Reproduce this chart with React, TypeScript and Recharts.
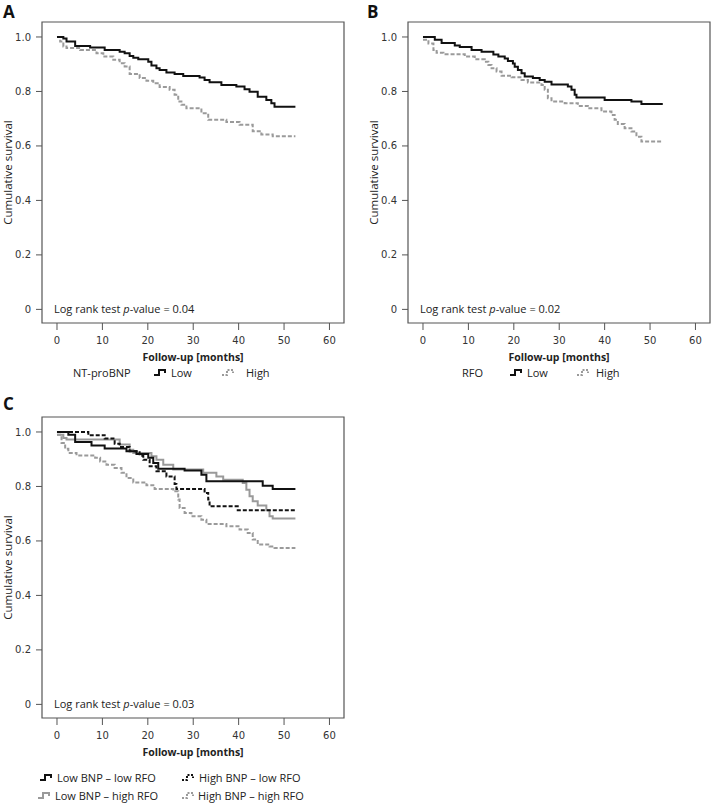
import { LineChart, Line, XAxis, YAxis, ReferenceArea, Label } from "recharts";

// axis ticks
const monthTicks = [0, 10, 20, 30, 40, 50, 60];
const survivalTicks = [0, 0.2, 0.4, 0.6, 0.8, 1.0];

// A: NT-proBNP
const ntLowTime = [0, 1.4, 2.1, 4.0, 7.3, 10.5, 13.8, 14.9, 16.0, 16.8, 17.9, 20.1, 20.8, 21.9, 22.6, 24.1, 25.9, 27.8, 31.4, 32.5, 33.6, 36.2, 39.5, 41.3, 42.4, 44.2, 46.1, 47.2, 47.9, 52.5];
const ntLowSurv = [1.0, 0.994, 0.983, 0.967, 0.961, 0.952, 0.946, 0.94, 0.93, 0.924, 0.918, 0.909, 0.895, 0.885, 0.879, 0.87, 0.864, 0.857, 0.851, 0.842, 0.834, 0.824, 0.818, 0.808, 0.799, 0.781, 0.769, 0.757, 0.744, 0.744];
const ntHighTime = [0, 0.7, 1.4, 2.1, 5.1, 8.7, 10.2, 12.4, 13.8, 14.9, 16.0, 18.2, 19.7, 21.2, 22.6, 24.8, 25.9, 26.7, 27.4, 28.5, 31.8, 33.3, 37.3, 40.2, 43.1, 45.0, 47.5, 52.5];
const ntHighSurv = [1.0, 0.983, 0.965, 0.96, 0.952, 0.94, 0.928, 0.916, 0.904, 0.892, 0.864, 0.849, 0.839, 0.83, 0.816, 0.806, 0.788, 0.763, 0.751, 0.738, 0.72, 0.696, 0.688, 0.678, 0.654, 0.642, 0.636, 0.636];

// B: RFO
const rfoLowTime = [0, 2.6, 4.1, 7.0, 8.1, 10.7, 12.9, 15.5, 16.6, 18.0, 18.7, 19.8, 20.2, 20.9, 21.7, 22.4, 24.2, 25.7, 26.8, 28.3, 31.9, 32.7, 33.4, 33.8, 40.0, 45.9, 48.1, 52.8];
const rfoLowSurv = [1.0, 0.99, 0.978, 0.969, 0.963, 0.952, 0.946, 0.936, 0.928, 0.921, 0.912, 0.903, 0.891, 0.879, 0.867, 0.855, 0.849, 0.842, 0.836, 0.826, 0.818, 0.806, 0.788, 0.778, 0.769, 0.763, 0.754, 0.754];
const rfoHighTime = [0, 1.2, 2.3, 3.0, 4.5, 9.2, 11.4, 13.6, 14.4, 15.1, 16.2, 17.3, 19.5, 21.7, 23.1, 26.1, 26.8, 27.5, 28.3, 31.2, 34.1, 36.3, 39.3, 41.5, 42.2, 42.9, 44.4, 45.9, 47.0, 48.1, 52.8];
const rfoHighSurv = [0.99, 0.976, 0.952, 0.942, 0.937, 0.928, 0.918, 0.909, 0.897, 0.885, 0.873, 0.858, 0.852, 0.842, 0.833, 0.824, 0.806, 0.775, 0.763, 0.757, 0.747, 0.738, 0.726, 0.714, 0.696, 0.681, 0.665, 0.653, 0.634, 0.616, 0.616];

// C: combined
const llTime = [0, 2.5, 4.0, 7.6, 10.5, 15.3, 17.5, 20.1, 21.2, 22.3, 28.1, 31.8, 32.9, 45.3, 47.5, 52.5];
const llSurv = [1.0, 0.99, 0.963, 0.95, 0.939, 0.929, 0.919, 0.905, 0.886, 0.865, 0.859, 0.843, 0.819, 0.803, 0.791, 0.791];
const hlTime = [0, 6.9, 10.5, 12.7, 13.8, 16.0, 18.2, 19.0, 20.4, 21.9, 24.1, 25.9, 26.3, 32.5, 33.3, 33.6, 39.8, 52.5];
const hlSurv = [1.0, 0.988, 0.976, 0.957, 0.945, 0.929, 0.913, 0.898, 0.874, 0.856, 0.837, 0.809, 0.791, 0.776, 0.752, 0.727, 0.713, 0.713];
const lhTime = [0, 1.4, 2.1, 13.8, 16.0, 16.8, 20.8, 21.9, 23.4, 25.6, 32.2, 35.1, 36.6, 40.9, 41.7, 42.4, 43.1, 44.2, 46.1, 46.8, 47.5, 52.5];
const lhSurv = [0.99, 0.978, 0.972, 0.954, 0.935, 0.923, 0.911, 0.898, 0.88, 0.862, 0.85, 0.837, 0.825, 0.813, 0.788, 0.764, 0.746, 0.73, 0.713, 0.691, 0.682, 0.682];
const hhTime = [0, 1.0, 1.8, 2.5, 4.3, 8.4, 9.5, 10.9, 12.7, 14.2, 15.3, 16.8, 19.7, 21.5, 25.6, 26.7, 27.0, 28.1, 29.6, 31.8, 32.9, 37.3, 40.2, 42.0, 43.1, 44.2, 46.8, 47.9, 52.5];
const hhSurv = [0.99, 0.96, 0.938, 0.923, 0.914, 0.905, 0.892, 0.88, 0.868, 0.85, 0.831, 0.815, 0.804, 0.791, 0.782, 0.752, 0.721, 0.703, 0.691, 0.678, 0.662, 0.654, 0.642, 0.629, 0.605, 0.587, 0.58, 0.574, 0.574];

const zip = (t: number[], s: number[]) => t.map((v, i) => ({ t: v, s: s[i] }));

const BLACK = "#111";
const GRAY = "#9a9a9a";
const DASH = "4 2";
const FONT = "'Open Sans', sans-serif";

type Series = { key: string; data: { t: number; s: number }[]; color: string; dash?: string };

const X_DOMAIN = [-3.3, 63.2];
const Y_DOMAIN = [-0.05, 1.055];

const xTitle = (props: any) => {
  const vb = props.viewBox;
  return (
    <text x={vb.x + vb.width / 2} y={vb.y + 34} textAnchor="middle" dominantBaseline="central"
      style={{ fontFamily: FONT, fontSize: 10.5, fontWeight: 700, fill: "#222" }}>
      Follow-up [months]
    </text>
  );
};

const yTitle = (props: any) => {
  const vb = props.viewBox;
  const cx = 7;
  const cy = vb.y + vb.height / 2;
  return (
    <text x={cx} y={cy} transform={`rotate(-90 ${cx} ${cy})`} textAnchor="middle" dominantBaseline="central"
      style={{ fontFamily: FONT, fontSize: 11.5, fill: "#222" }}>
      Cumulative survival
    </text>
  );
};

function Panel({ left, top, width, series, pValue }: { left: number; top: number; width: number; series: Series[]; pValue: string }) {
  const tickStyle = { fill: "#333", fontSize: 10, fontFamily: "'DejaVu Sans', sans-serif" };
  return (
    <div style={{ position: "absolute", left, top }}>
      <LineChart width={width} height={372} margin={{ top: 22, right: width - 344, bottom: 0, left: 0 }}>
        <XAxis type="number" dataKey="t" domain={X_DOMAIN} ticks={monthTicks} allowDataOverflow
          axisLine={false} stroke="#555" tickSize={7} tickMargin={7} height={49} tick={tickStyle}>
          <Label content={xTitle} />
        </XAxis>
        <YAxis type="number" domain={Y_DOMAIN} ticks={survivalTicks} allowDataOverflow width={42}
          axisLine={false} stroke="#555" tickSize={6} tickMargin={5} tick={tickStyle}
          tickFormatter={(v: number) => (v === 0 ? "0" : v.toFixed(1))}>
          <Label content={yTitle} />
        </YAxis>
        <ReferenceArea x1={X_DOMAIN[0]} x2={X_DOMAIN[1]} y1={Y_DOMAIN[0]} y2={Y_DOMAIN[1]}
          fill="none" stroke="#555" strokeWidth={1.2} />
        {series.map((s) => (
          <Line key={s.key} data={s.data} dataKey="s" type="stepAfter" stroke={s.color} strokeWidth={2}
            strokeDasharray={s.dash} dot={false} activeDot={false} isAnimationActive={false} />
        ))}
      </LineChart>
      <div style={{ position: "absolute", left: 54, top: 301, fontSize: 11, lineHeight: "16px", whiteSpace: "nowrap", color: "#222" }}>
        Log rank test <i>p</i>-value = {pValue}
      </div>
    </div>
  );
}

function StepIcon({ color, dash }: { color: string; dash?: string }) {
  return (
    <svg width={14} height={9} style={{ display: "block" }}>
      <path d="M0 7 H5 V2 H11 V5" fill="none" stroke={color} strokeWidth={2} strokeDasharray={dash ? "2 1.5" : undefined} />
    </svg>
  );
}

function Txt({ x, y, children }: { x: number; y: number; children: any }) {
  return (
    <div style={{ position: "absolute", left: x, top: y - 8, lineHeight: "16px", fontSize: 11, whiteSpace: "nowrap", color: "#222" }}>
      {children}
    </div>
  );
}

function Icon({ x, y, color, dash }: { x: number; y: number; color: string; dash?: string }) {
  return (
    <div style={{ position: "absolute", left: x, top: y - 5 }}>
      <StepIcon color={color} dash={dash} />
    </div>
  );
}

const letter = (x: number, y: number) => ({
  position: "absolute" as const, left: x, top: y, fontSize: 17, fontWeight: 700, lineHeight: "normal", color: "#111",
});

export default function App() {
  const seriesA: Series[] = [
    { key: "high", data: zip(ntHighTime, ntHighSurv), color: GRAY, dash: DASH },
    { key: "low", data: zip(ntLowTime, ntLowSurv), color: BLACK },
  ];
  const seriesB: Series[] = [
    { key: "high", data: zip(rfoHighTime, rfoHighSurv), color: GRAY, dash: DASH },
    { key: "low", data: zip(rfoLowTime, rfoLowSurv), color: BLACK },
  ];
  const seriesC: Series[] = [
    { key: "hh", data: zip(hhTime, hhSurv), color: GRAY, dash: DASH },
    { key: "lh", data: zip(lhTime, lhSurv), color: GRAY },
    { key: "hl", data: zip(hlTime, hlSurv), color: BLACK, dash: DASH },
    { key: "ll", data: zip(llTime, llSurv), color: BLACK },
  ];

  return (
    <div style={{ position: "absolute", left: 0, top: 0, width: 712, height: 803, overflow: "hidden", background: "#fff", fontFamily: FONT }}>
      <div style={letter(3, 0)}>A</div>
      <div style={letter(367, 0)}>B</div>
      <div style={letter(3, 392)}>C</div>

      <Panel left={0} top={0} width={356} series={seriesA} pValue="0.04" />
      <Panel left={366} top={0} width={346} series={seriesB} pValue="0.02" />
      <Panel left={0} top={395} width={356} series={seriesC} pValue="0.03" />

      {/* legend A */}
      <Txt x={73} y={373}>NT-proBNP</Txt>
      <Icon x={154} y={373} color={BLACK} />
      <Txt x={171} y={373}>Low</Txt>
      <Icon x={222} y={373} color={GRAY} dash={DASH} />
      <Txt x={246} y={373}>High</Txt>

      {/* legend B */}
      <Txt x={462} y={373}>RFO</Txt>
      <Icon x={510} y={373} color={BLACK} />
      <Txt x={527} y={373}>Low</Txt>
      <Icon x={577} y={373} color={GRAY} dash={DASH} />
      <Txt x={596} y={373}>High</Txt>

      {/* legend C */}
      <Icon x={40} y={778} color={BLACK} />
      <Txt x={57} y={778}>Low BNP – low RFO</Txt>
      <Icon x={182} y={778} color={BLACK} dash={DASH} />
      <Txt x={199} y={778}>High BNP – low RFO</Txt>
      <Icon x={38} y={796} color={GRAY} />
      <Txt x={55} y={796}>Low BNP – high RFO</Txt>
      <Icon x={182} y={796} color={GRAY} dash={DASH} />
      <Txt x={198} y={796}>High BNP – high RFO</Txt>
    </div>
  );
}
